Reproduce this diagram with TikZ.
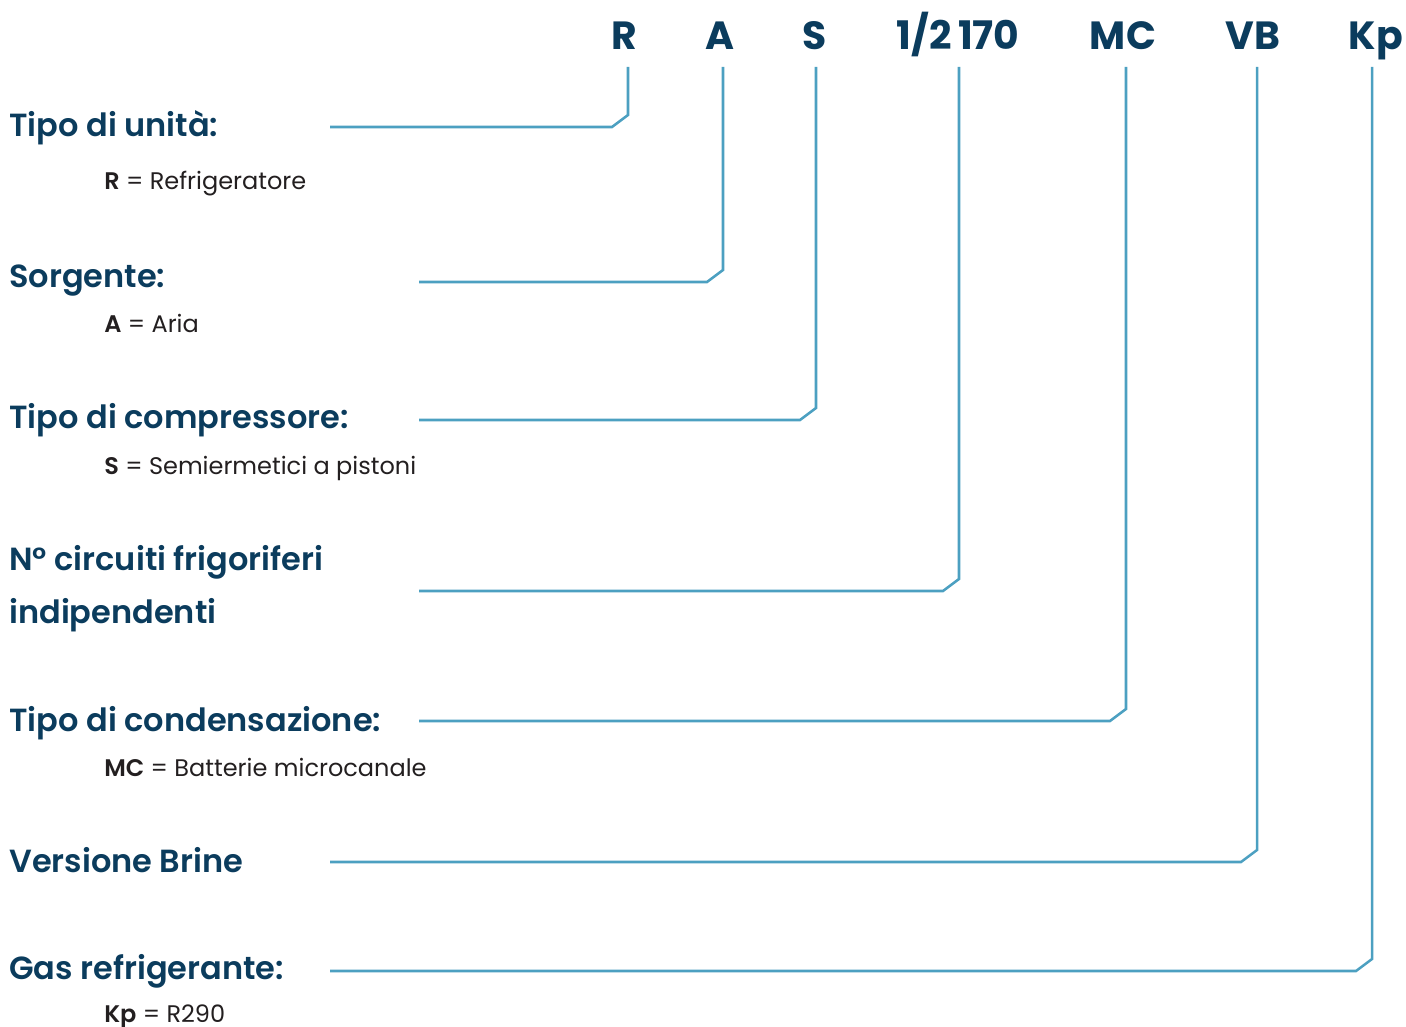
\documentclass[tikz,border=0pt]{standalone}
\usepackage{fontspec}
\setmainfont{Poppins}[BoldFont={Poppins SemiBold}]
\newfontfamily\hdrfont{Poppins Bold}
\definecolor{navy}{HTML}{0B3C5D}
\definecolor{lineblue}{HTML}{4CA0C1}
\definecolor{txt}{HTML}{231F20}
\begin{document}
\begin{tikzpicture}[x=0.75pt,y=-0.75pt,
  hdr/.style={anchor=base,inner sep=0pt,text=navy,font=\fontsize{29.5}{34}\hdrfont},
  ttl/.style={anchor=base west,inner sep=0pt,text=navy,font=\fontsize{24}{27}\selectfont\bfseries},
  sub/.style={anchor=base west,inner sep=0pt,text=txt,font=\fontsize{18}{20}\selectfont},
  conn/.style={draw=lineblue,line width=1.9pt}]
\useasboundingbox (0,0) rectangle (1406,1027);
% header codes
\node[hdr] (hR) at (624,50) {R};
\node[hdr] (hA) at (720,50) {A};
\node[hdr] (hS) at (815,50) {S};
\node[hdr] (hN) at (958,50) {1/2\,170};
\node[hdr] (hMC) at (1123,50) {MC};
\node[hdr] (hVB) at (1253,50) {VB};
\node[hdr] (hKp) at (1376,50) {Kp};
% titles
\node[ttl] (t1) at (9,137) {Tipo di unità:};
\node[sub] (s1) at (104,190) {\textbf{R} = Refrigeratore};
\node[ttl] (t2) at (9,287) {Sorgente:};
\node[sub] (s2) at (104,332) {\textbf{A} = Aria};
\node[ttl] (t3) at (9,428) {Tipo di compressore:};
\node[sub] (s3) at (104,474) {\textbf{S} = Semiermetici a pistoni};
\node[ttl] (t4) at (9,570) {N° circuiti frigoriferi};
\node[ttl] (t4b) at (9,623) {indipendenti};
\node[ttl] (t5) at (9,731) {Tipo di condensazione:};
\node[sub] (s5) at (104,776) {\textbf{MC} = Batterie microcanale};
\node[ttl] (t6) at (9,872) {Versione Brine};
\node[ttl] (t7) at (9,979) {Gas refrigerante:};
\node[sub] (s7) at (104,1022) {\textbf{Kp} = R290};
% connector ends
\coordinate (cR) at (628,67);   \coordinate (eR) at (330,127);
\coordinate (cA) at (723,67);   \coordinate (eA) at (419,282);
\coordinate (cS) at (816,67);   \coordinate (eS) at (419,420);
\coordinate (cN) at (959,67);   \coordinate (eN) at (419,591);
\coordinate (cMC) at (1126,67); \coordinate (eMC) at (419,721);
\coordinate (cVB) at (1257,67); \coordinate (eVB) at (330,862);
\coordinate (cKp) at (1372,67); \coordinate (eKp) at (330,971);
\foreach \c in {R,A,S,N,MC,VB,Kp}{
  \draw[conn,line join=miter] (c\c) -- ([yshift=9]c\c |- e\c) -- ([xshift=-12]c\c |- e\c) -- (e\c);
}
\end{tikzpicture}
\end{document}
